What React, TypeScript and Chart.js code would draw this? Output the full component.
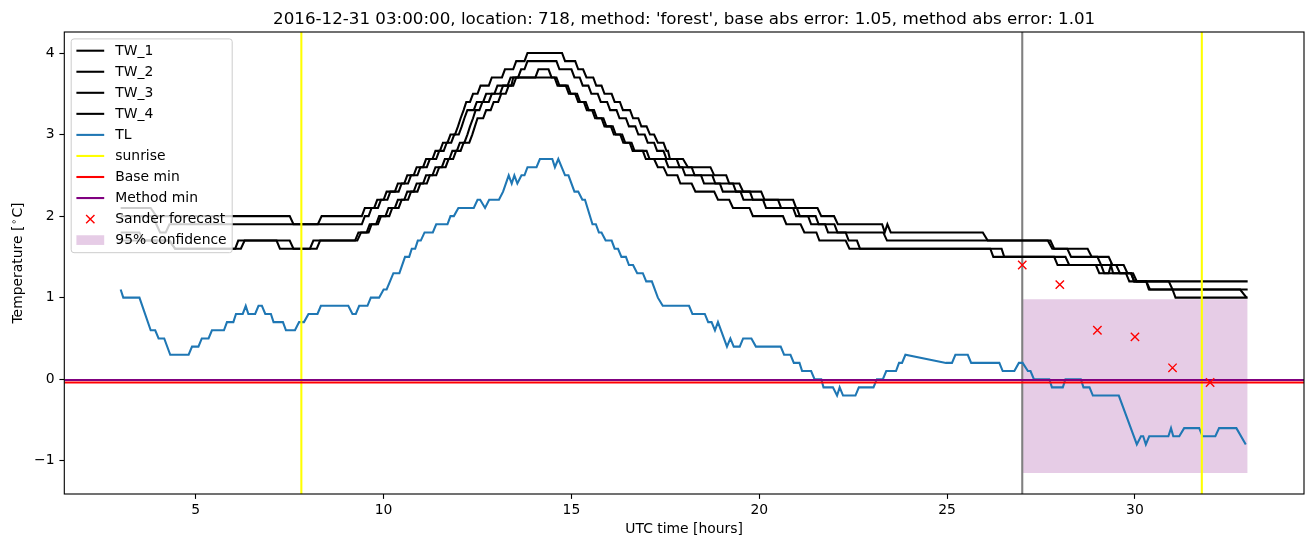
import React, { useEffect, useRef } from "react";
import { Chart, registerables } from "chart.js";
Chart.register(...registerables);

const X_MIN = 1.5;
const X_MAX = 34.5;
const Y_MIN = -1.4075;
const Y_MAX = 4.2575;
const xTicks = [5, 10, 15, 20, 25, 30];
const yTicks = [-1, 0, 1, 2, 3, 4];

const tw1: number[][] = [[3.0,2.1],[3.8,2.1],[3.95,2.0],[7.5,2.0],[7.6,1.9],[8.25,1.9],[8.35,2.0],[9.42,2.0],
[9.5,2.1],[9.75,2.1],[9.83,2.2],[10.0,2.2],[10.08,2.3],[10.3,2.3],[10.38,2.4],[10.55,2.4],[10.63,2.5],[10.8,2.5],[10.88,2.6],[11.05,2.6],[11.13,2.7],[11.3,2.7],[11.38,2.8],[11.5,2.8],[11.58,2.9],[11.7,2.9],[11.78,3.0],[11.9,3.0],[11.98,3.1],[12.05,3.2],[12.13,3.3],[12.2,3.4],[12.3,3.4],[12.38,3.5],[12.5,3.5],[12.58,3.6],[12.8,3.6],[12.88,3.7],[13.15,3.7],[13.23,3.8],[13.45,3.8],[13.53,3.9],[13.75,3.9],[13.83,4.0],[14.75,4.0],
[14.83,3.9],[15.1,3.9],[15.18,3.8],[15.31,3.8],[15.4,3.7],[15.58,3.7],[15.66,3.6],[15.8,3.6],[15.88,3.5],[16.07,3.5],[16.15,3.4],[16.29,3.4],[16.37,3.3],[16.56,3.3],[16.64,3.2],[16.78,3.2],[16.86,3.1],[17.0,3.1],[17.09,3.0],[17.2,3.0],[17.3,2.9],[17.45,2.9],[17.53,2.8],[17.57,2.8],[17.62,2.7],[17.97,2.7],[18.1,2.6],[18.7,2.6],[18.8,2.5],[19.12,2.5],[19.2,2.4],[19.47,2.4],[19.57,2.3],[20.05,2.3],[20.14,2.2],[20.9,2.2],[20.98,2.1],[21.55,2.1],[21.65,2.0],[21.99,2.0],[22.09,1.9],[23.27,1.9],[23.34,1.8],[23.41,1.9],[23.5,1.8],[25.95,1.8],[26.08,1.7],[27.68,1.7],[27.8,1.6],[28.74,1.6],[28.85,1.5],[29.3,1.5],[29.4,1.4],[29.7,1.4],[29.8,1.3],[29.9,1.3],[29.98,1.2],[33.0,1.2]];

const tw2: number[][] = [[3.0,2.0],[3.85,2.0],[3.95,1.9],[4.05,1.8],[4.2,1.8],[4.3,1.9],[9.42,1.9],[9.5,2.0],[9.6,2.0],[9.68,2.1],[9.85,2.1],[9.93,2.2],[10.1,2.2],[10.18,2.3],[10.4,2.3],[10.48,2.4],[10.65,2.4],[10.73,2.5],[10.9,2.5],[10.98,2.6],[11.15,2.6],[11.23,2.7],[11.4,2.7],[11.48,2.8],[11.6,2.8],[11.68,2.9],[11.8,2.9],[11.88,3.0],[12.0,3.0],[12.08,3.1],[12.15,3.2],[12.23,3.3],[12.4,3.3],[12.48,3.4],[12.65,3.4],[12.73,3.5],[12.95,3.5],[13.03,3.6],[13.3,3.6],[13.38,3.7],[13.58,3.7],[13.66,3.8],[13.75,3.8],[13.83,3.9],[14.6,3.9],
[14.68,3.8],[15.0,3.8],[15.08,3.7],[15.22,3.7],[15.3,3.6],[15.45,3.6],[15.53,3.5],[15.7,3.5],[15.78,3.4],[15.95,3.4],[16.03,3.3],[16.2,3.3],[16.28,3.2],[16.45,3.2],[16.53,3.1],[16.7,3.1],[16.78,3.0],[16.95,3.0],[17.03,2.9],[17.2,2.9],[17.28,2.8],[17.45,2.8],[17.53,2.7],[17.8,2.7],[17.88,2.6],[18.2,2.6],[18.28,2.5],[18.75,2.5],[18.83,2.4],[19.3,2.4],[19.38,2.3],[19.75,2.3],[19.83,2.2],[20.5,2.2],[20.58,2.1],[21.0,2.1],[21.08,2.0],[21.5,2.0],[21.58,1.9],[22.0,1.9],[22.08,1.8],[23.3,1.8],[23.4,1.7],[27.75,1.7],[27.85,1.6],[28.2,1.6],[28.3,1.5],[29.0,1.5],[29.1,1.4],[29.5,1.4],[29.6,1.3],[29.95,1.3],[30.05,1.2],[30.3,1.2],[30.4,1.1],[33.0,1.1]];

const tw3: number[][] = [[3.0,1.8],[3.5,1.8],[3.6,1.7],[4.3,1.7],[4.45,1.6],[6.05,1.6],[6.13,1.7],[7.5,1.7],[7.6,1.6],[8.04,1.6],[8.13,1.7],[9.24,1.7],
[9.33,1.8],[9.55,1.8],[9.63,1.9],[9.8,1.9],[9.88,2.0],[10.05,2.0],[10.13,2.1],[10.3,2.1],[10.38,2.2],[10.55,2.2],[10.63,2.3],[10.8,2.3],[10.88,2.4],[11.05,2.4],[11.13,2.5],[11.3,2.5],[11.38,2.6],[11.55,2.6],[11.63,2.7],[11.75,2.7],[11.83,2.8],[11.95,2.8],[12.03,2.9],[12.15,2.9],[12.23,3.0],[12.3,3.1],[12.38,3.2],[12.45,3.3],[12.55,3.3],[12.63,3.4],[12.8,3.4],[12.88,3.5],[13.1,3.5],[13.18,3.6],[13.45,3.6],[13.53,3.7],[14.04,3.7],[14.12,3.8],[14.39,3.8],[14.47,3.7],[14.6,3.7],
[14.68,3.6],[14.9,3.6],[14.98,3.5],[15.15,3.5],[15.23,3.4],[15.38,3.4],[15.46,3.3],[15.6,3.3],[15.68,3.2],[15.85,3.2],[15.93,3.1],[16.1,3.1],[16.18,3.0],[16.35,3.0],[16.43,2.9],[16.6,2.9],[16.68,2.8],[17.0,2.8],[17.08,2.7],[17.5,2.7],[17.58,2.6],[17.95,2.6],[18.03,2.5],[18.45,2.5],[18.53,2.4],[18.95,2.4],[19.03,2.3],[19.5,2.3],[19.58,2.2],[20.1,2.2],[20.18,2.1],[20.9,2.1],[20.98,2.0],[21.3,2.0],[21.38,1.9],[21.75,1.9],[21.83,1.8],[22.3,1.8],[22.38,1.7],[22.6,1.7],[22.68,1.6],[26.15,1.6],[26.23,1.5],[27.85,1.5],[27.94,1.4],[28.96,1.4],[29.05,1.3],[29.3,1.3],[29.36,1.4],[29.42,1.3],[29.76,1.3],[29.85,1.2],[30.9,1.2],[31.0,1.1],[32.8,1.1],[32.97,1.0]];

const tw4: number[][] = [[3.0,1.7],[4.3,1.7],[4.45,1.6],[6.2,1.6],[6.3,1.7],[7.15,1.7],[7.24,1.6],[8.22,1.6],[8.31,1.7],[9.3,1.7],
[9.4,1.8],[9.6,1.8],[9.68,1.9],[9.85,1.9],[9.93,2.0],[10.15,2.0],[10.23,2.1],[10.4,2.1],[10.48,2.2],[10.65,2.2],[10.73,2.3],[10.9,2.3],[10.98,2.4],[11.15,2.4],[11.23,2.5],[11.4,2.5],[11.48,2.6],[11.65,2.6],[11.73,2.7],[11.85,2.7],[11.93,2.8],[12.05,2.8],[12.13,2.9],[12.28,2.9],[12.36,3.0],[12.43,3.1],[12.5,3.2],[12.65,3.2],[12.73,3.3],[12.85,3.3],[12.93,3.4],[13.05,3.4],[13.13,3.5],[13.25,3.5],[13.33,3.6],[13.4,3.6],[13.45,3.7],[14.55,3.7],
[14.63,3.6],[14.85,3.6],[14.93,3.5],[15.1,3.5],[15.18,3.4],[15.33,3.4],[15.41,3.3],[15.55,3.3],[15.63,3.2],[15.8,3.2],[15.88,3.1],[16.05,3.1],[16.13,3.0],[16.3,3.0],[16.38,2.9],[16.55,2.9],[16.63,2.8],[16.9,2.8],[16.98,2.7],[17.2,2.7],[17.3,2.6],[17.45,2.6],[17.55,2.5],[17.82,2.5],[17.9,2.4],[18.2,2.4],[18.3,2.3],[18.8,2.3],[18.9,2.2],[19.2,2.2],[19.3,2.1],[19.74,2.1],[19.83,2.0],[20.63,2.0],[20.72,1.9],[21.1,1.9],[21.2,1.8],[21.52,1.8],[21.6,1.7],[22.3,1.7],[22.4,1.6],[26.45,1.6],[26.52,1.5],[28.15,1.5],[28.25,1.4],[29.1,1.4],[29.18,1.3],[29.89,1.3],[29.98,1.2],[30.3,1.2],[30.37,1.1],[31.0,1.1],[31.08,1.0],[33.0,1.0]];

const tl: number[][] = [[3.0,1.1],[3.07,1.0],[3.5,1.0],[3.8,0.6],[3.92,0.6],[4.01,0.5],[4.16,0.5],[4.32,0.3],[4.81,0.3],[4.9,0.4],[5.07,0.4],[5.16,0.5],[5.34,0.5],[5.43,0.6],[5.75,0.6],[5.83,0.7],[6.0,0.7],[6.07,0.8],[6.25,0.8],[6.33,0.9],[6.4,0.8],[6.58,0.8],[6.67,0.9],[6.76,0.9],[6.85,0.8],[7.0,0.8],[7.07,0.7],[7.32,0.7],[7.4,0.6],[7.64,0.6],[7.75,0.7],[7.88,0.7],[8.0,0.8],[8.24,0.8],[8.33,0.9],[9.06,0.9],[9.17,0.8],[9.26,0.8],[9.35,0.9],[9.57,0.9],[9.66,1.0],[9.88,1.0],[10.0,1.1],[10.08,1.1],[10.17,1.2],[10.26,1.3],[10.42,1.3],[10.57,1.5],[10.68,1.5],[10.75,1.6],[10.84,1.6],[10.91,1.7],[10.99,1.7],[11.09,1.8],[11.31,1.8],[11.4,1.9],[11.7,1.9],[11.78,2.0],[11.87,2.0],[11.99,2.1],[12.4,2.1],[12.5,2.2],[12.57,2.2],[12.7,2.1],[12.81,2.2],[13.07,2.2],[13.18,2.3],[13.33,2.5],[13.41,2.4],[13.48,2.5],[13.56,2.4],[13.67,2.5],[13.75,2.5],[13.83,2.6],[14.07,2.6],[14.16,2.7],[14.49,2.7],[14.56,2.6],[14.65,2.7],[14.83,2.5],[14.92,2.5],[15.08,2.3],[15.18,2.3],[15.29,2.2],[15.36,2.2],[15.56,1.9],[15.65,1.9],[15.73,1.8],[15.8,1.8],[15.91,1.7],[16.07,1.7],[16.15,1.6],[16.24,1.6],[16.33,1.5],[16.45,1.5],[16.53,1.4],[16.64,1.4],[16.75,1.3],[16.9,1.3],[16.99,1.2],[17.14,1.2],[17.3,1.0],[17.43,0.9],[18.13,0.9],[18.22,0.8],[18.55,0.8],[18.64,0.7],[18.73,0.7],[18.82,0.6],[18.9,0.7],[19.14,0.4],[19.23,0.5],[19.32,0.4],[19.48,0.4],[19.57,0.5],[19.79,0.5],[19.91,0.4],[20.57,0.4],[20.66,0.3],[20.83,0.3],[20.92,0.2],[21.07,0.2],[21.14,0.1],[21.38,0.1],[21.47,0.0],[21.65,0.0],[21.71,-0.1],[21.96,-0.1],[22.07,-0.2],[22.14,-0.1],[22.23,-0.2],[22.56,-0.2],[22.65,-0.1],[23.04,-0.1],[23.13,0.0],[23.29,0.0],[23.38,0.1],[23.64,0.1],[23.72,0.2],[23.8,0.2],[23.89,0.3],[24.97,0.2],[25.13,0.2],[25.22,0.3],[25.55,0.3],[25.64,0.2],[26.39,0.2],[26.48,0.1],[26.79,0.1],[26.91,0.2],[27.01,0.2],[27.15,0.1],[27.22,0.1],[27.31,0.0],[27.72,0.0],[27.79,-0.1],[28.08,-0.1],[28.15,0.0],[28.56,0.0],[28.63,-0.1],[28.79,-0.1],[28.88,-0.2],[29.57,-0.2],[30.05,-0.8],[30.16,-0.7],[30.22,-0.7],[30.29,-0.8],[30.38,-0.7],[30.89,-0.7],[30.96,-0.6],[31.02,-0.7],[31.18,-0.7],[31.31,-0.6],[31.71,-0.6],[31.8,-0.7],[32.14,-0.7],[32.24,-0.6],[32.7,-0.6],[32.95,-0.8]];

const sunriseHours = [7.81, 31.78];
const forecastStart = 27;
const baseMin = -0.04;
const methodMin = -0.01;
const sanderHours = [27, 28, 29, 30, 31, 32];
const sanderValues = [1.40, 1.16, 0.60, 0.52, 0.14, -0.04];
const confHours = [27, 33.0];
const confUpper = 0.98;
const confLower = -1.15;

const FONT = "'DejaVu Sans', sans-serif";
const LW = 2.08;
const toXY = (a: number[][]) => a.map(([x, y]) => ({ x, y }));

type LegendItem = { label: string; kind: "line" | "x" | "patch"; color: string };
const legendItems: LegendItem[] = [
  { label: "TW_1", kind: "line", color: "#000000" },
  { label: "TW_2", kind: "line", color: "#000000" },
  { label: "TW_3", kind: "line", color: "#000000" },
  { label: "TW_4", kind: "line", color: "#000000" },
  { label: "TL", kind: "line", color: "#1f77b4" },
  { label: "sunrise", kind: "line", color: "#ffff00" },
  { label: "Base min", kind: "line", color: "#ff0000" },
  { label: "Method min", kind: "line", color: "#800080" },
  { label: "Sander forecast", kind: "x", color: "#ff0000" },
  { label: "95% confidence", kind: "patch", color: "rgba(128,0,128,0.2)" },
];

const decorPlugin = {
  id: "decor",
  afterDraw(chart: any) {
    const { ctx, chartArea: a } = chart;
    ctx.save();
    ctx.strokeStyle = "#000";
    ctx.lineWidth = 1.11;
    ctx.strokeRect(a.left, a.top, a.right - a.left, a.bottom - a.top);
    ctx.fillStyle = "#000";
    ctx.font = `16.7px ${FONT}`;
    ctx.textAlign = "center";
    ctx.textBaseline = "alphabetic";
    ctx.fillText("2016-12-31 03:00:00, location: 718, method: 'forest', base abs error: 1.05, method abs error: 1.01", (a.left + a.right) / 2, 24);
    ctx.font = `13.9px ${FONT}`;
    ctx.fillText("UTC time [hours]", (a.left + a.right) / 2, 533);
    ctx.save();
    ctx.translate(22, (a.top + a.bottom) / 2);
    ctx.rotate(-Math.PI / 2);
    const p1 = "Temperature [";
    const p2 = "\u2218";
    const p3 = "C]";
    ctx.font = `13.9px ${FONT}`;
    const w1 = ctx.measureText(p1).width;
    const w3 = ctx.measureText(p3).width;
    ctx.font = `9.7px ${FONT}`;
    const w2 = ctx.measureText(p2).width + 2;
    const total = w1 + w2 + w3;
    let sx = -total / 2;
    ctx.textAlign = "left";
    ctx.font = `13.9px ${FONT}`;
    ctx.fillText(p1, sx, 0);
    sx += w1;
    ctx.font = `9.7px ${FONT}`;
    ctx.fillText(p2, sx + 1, -5);
    sx += w2;
    ctx.font = `13.9px ${FONT}`;
    ctx.fillText(p3, sx, 0);
    ctx.restore();

    const lx = a.left + 6.9, ly = a.top + 6.9, lw = 161, lh = 213.8, r = 2.8;
    ctx.beginPath();
    ctx.moveTo(lx + r, ly);
    ctx.lineTo(lx + lw - r, ly);
    ctx.arcTo(lx + lw, ly, lx + lw, ly + r, r);
    ctx.lineTo(lx + lw, ly + lh - r);
    ctx.arcTo(lx + lw, ly + lh, lx + lw - r, ly + lh, r);
    ctx.lineTo(lx + r, ly + lh);
    ctx.arcTo(lx, ly + lh, lx, ly + lh - r, r);
    ctx.lineTo(lx, ly + r);
    ctx.arcTo(lx, ly, lx + r, ly, r);
    ctx.closePath();
    ctx.fillStyle = "rgba(255,255,255,0.8)";
    ctx.fill();
    ctx.strokeStyle = "#cccccc";
    ctx.lineWidth = 1;
    ctx.stroke();
    const hx0 = lx + 5.2, hx1 = hx0 + 27.8;
    legendItems.forEach((it, i) => {
      const cy = ly + 11.8 + i * 21.05;
      if (it.kind === "line") {
        ctx.strokeStyle = it.color;
        ctx.lineWidth = LW;
        ctx.beginPath();
        ctx.moveTo(hx0, cy);
        ctx.lineTo(hx1, cy);
        ctx.stroke();
      } else if (it.kind === "x") {
        const cx = (hx0 + hx1) / 2, h = 4.17;
        ctx.strokeStyle = it.color;
        ctx.lineWidth = 1.4;
        ctx.beginPath();
        ctx.moveTo(cx - h, cy - h);
        ctx.lineTo(cx + h, cy + h);
        ctx.moveTo(cx - h, cy + h);
        ctx.lineTo(cx + h, cy - h);
        ctx.stroke();
      } else {
        ctx.fillStyle = it.color;
        ctx.fillRect(hx0, cy - 4.9, hx1 - hx0, 9.7);
      }
      ctx.fillStyle = "#000";
      ctx.font = `13.9px ${FONT}`;
      ctx.textAlign = "left";
      ctx.textBaseline = "middle";
      ctx.fillText(it.label, hx1 + 11.1, cy + 0.5);
    });
    ctx.restore();
  },
};

export default function App() {
  const ref = useRef<HTMLCanvasElement | null>(null);
  useEffect(() => {
    if (!ref.current) return;
    const line = (label: string, data: any[], color: string, order: number, width = LW) => ({
      type: "scatter" as const,
      label,
      data,
      showLine: true,
      borderColor: color,
      backgroundColor: color,
      borderWidth: width,
      pointRadius: 0,
      pointHoverRadius: 0,
      fill: false,
      order,
      tension: 0,
    });
    const datasets: any[] = [
      {
        type: "scatter",
        label: "Sander forecast",
        data: sanderHours.map((h, i) => ({ x: h, y: sanderValues[i] })),
        showLine: false,
        pointStyle: "crossRot",
        pointRadius: 5.9,
        pointBorderWidth: 1.4,
        borderColor: "#ff0000",
        backgroundColor: "#ff0000",
        order: 0,
      },
      line("Method min", [{ x: X_MIN, y: methodMin }, { x: X_MAX, y: methodMin }], "#800080", 1),
      line("Base min", [{ x: X_MIN, y: baseMin }, { x: X_MAX, y: baseMin }], "#ff0000", 2),
      ...sunriseHours.map((h, i) => line(i === 0 ? "sunrise" : "sunrise_" + i, [{ x: h, y: Y_MIN }, { x: h, y: Y_MAX }], "#ffff00", 3)),
      line("TL", toXY(tl), "#1f77b4", 4),
      line("TW_4", toXY(tw4), "#000000", 5),
      line("TW_3", toXY(tw3), "#000000", 6),
      line("TW_2", toXY(tw2), "#000000", 7),
      line("TW_1", toXY(tw1), "#000000", 8),
      line("forecast", [{ x: forecastStart, y: Y_MIN }, { x: forecastStart, y: Y_MAX }], "#808080", 9),
      {
        type: "scatter",
        label: "95% confidence",
        data: confHours.map((h) => ({ x: h, y: confUpper })),
        showLine: true,
        borderWidth: 0,
        borderColor: "rgba(0,0,0,0)",
        backgroundColor: "rgba(128,0,128,0.2)",
        pointRadius: 0,
        fill: "+1",
        order: 10,
      },
      {
        type: "scatter",
        label: "conf_low",
        data: confHours.map((h) => ({ x: h, y: confLower })),
        showLine: true,
        borderWidth: 0,
        borderColor: "rgba(0,0,0,0)",
        pointRadius: 0,
        fill: false,
        order: 11,
      },
    ];
    const chart = new Chart(ref.current, {
      type: "scatter",
      data: { datasets },
      options: {
        animation: false,
        responsive: false,
        devicePixelRatio: 1,
        events: [],
        layout: { padding: { left: 0, right: 9, top: 32, bottom: 0 } },
        plugins: {
          legend: { display: false },
          title: { display: false },
          tooltip: { enabled: false },
          filler: { drawTime: "beforeDatasetsDraw" },
        },
        scales: {
          x: {
            type: "linear",
            min: X_MIN,
            max: X_MAX,
            afterBuildTicks: (s: any) => { s.ticks = xTicks.map((v) => ({ value: v })); },
            afterFit: (s: any) => { s.height = 53; },
            grid: { drawOnChartArea: false, drawTicks: true, tickLength: 4.9, tickColor: "#000", tickWidth: 1.11 },
            border: { display: false },
            ticks: { color: "#000", font: { family: FONT, size: 13.9 }, padding: 3, maxRotation: 0, autoSkip: false, callback: (v: any) => String(v) },
          },
          y: {
            type: "linear",
            min: Y_MIN,
            max: Y_MAX,
            afterBuildTicks: (s: any) => { s.ticks = yTicks.map((v) => ({ value: v })); },
            afterFit: (s: any) => { s.width = 64.3; },
            grid: { drawOnChartArea: false, drawTicks: true, tickLength: 4.9, tickColor: "#000", tickWidth: 1.11 },
            border: { display: false },
            ticks: { color: "#000", font: { family: FONT, size: 13.9 }, padding: 4.9, autoSkip: false, callback: (v: any) => String(v).replace("-", "\u2212") },
          },
        },
      },
      plugins: [decorPlugin],
    } as any);
    return () => chart.destroy();
  }, []);
  return (
    <div style={{ position: "absolute", left: 0, top: 0, width: 1313, height: 547, background: "#fff" }}>
      <canvas ref={ref} width={1313} height={547} style={{ width: 1313, height: 547 }} />
    </div>
  );
}
